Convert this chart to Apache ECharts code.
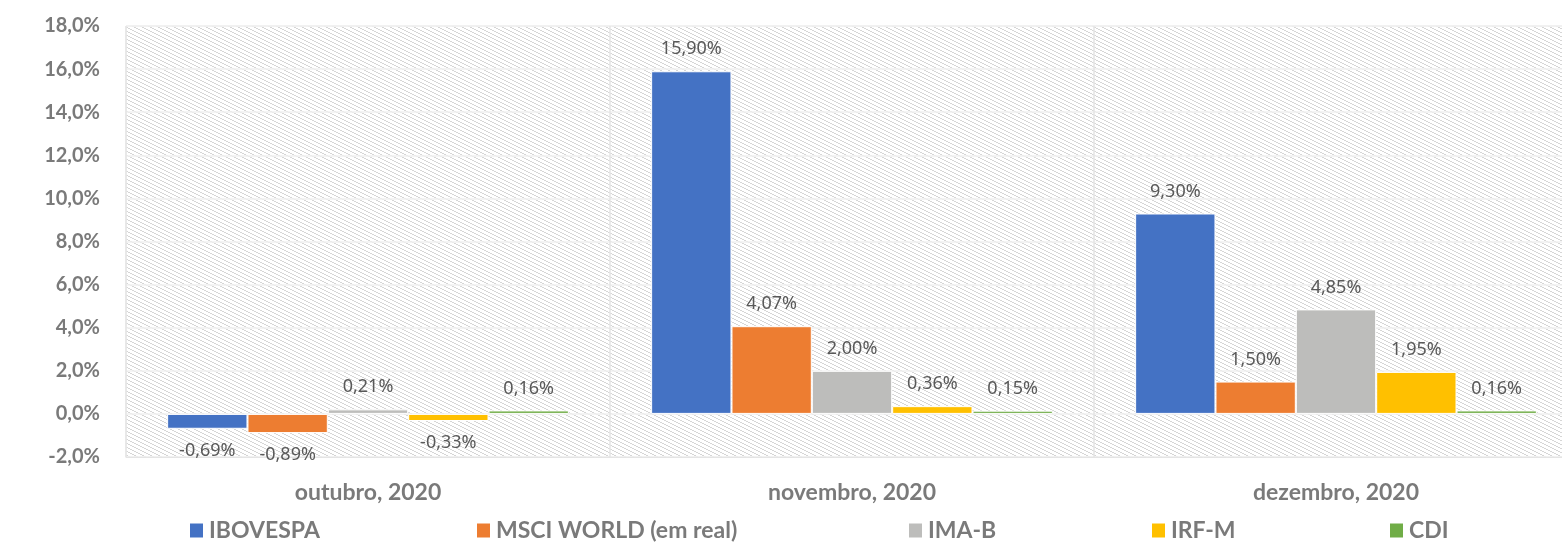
<!DOCTYPE html>
<html>
<head>
<meta charset="utf-8">
<script src="https://cdn.jsdelivr.net/npm/echarts@6/dist/echarts.min.js"></script>
<style>
html,body{margin:0;padding:0;background:#fff;}
#c{width:1562px;height:549px;}
</style>
</head>
<body>
<div id="c"></div>
<script>
const categories = ['outubro, 2020', 'novembro, 2020', 'dezembro, 2020'];
const seriesNames = ['IBOVESPA', 'MSCI WORLD (em real)', 'IMA-B', 'IRF-M', 'CDI'];
const ibovespa = [-0.69, 15.90, 9.30];
const msciWorld = [-0.89, 4.07, 1.50];
const imaB = [0.21, 2.00, 4.85];
const irfM = [-0.33, 0.36, 1.95];
const cdi = [0.16, 0.15, 0.16];
const colors = ['#4472C4', '#ED7D31', '#BDBDBB', '#FFC000', '#70AD47'];
const legendLefts = [188, 475, 907, 1150, 1388];

const seriesData = [ibovespa, msciWorld, imaB, irfM, cdi];

// hatch pattern
const pc = document.createElement('canvas');
pc.width = 8; pc.height = 4;
const pctx = pc.getContext('2d');
pctx.fillStyle = '#ffffff';
pctx.fillRect(0, 0, 8, 4);
pctx.fillStyle = '#d6d6d6';
for (let i = 0; i < 4; i++) { pctx.fillRect(i * 2, i, 2, 1); }

const fmtPct = v => v.toFixed(2).replace('.', ',') + '%';
const fontFam = 'Lato, "Noto Sans", sans-serif';

const chart = echarts.init(document.getElementById('c'));
chart.setOption({
  animation: false,
  backgroundColor: '#ffffff',
  grid: {
    left: 126, width: 1452, top: 26, bottom: 92,
    outerBoundsMode: 'none',
    containLabel: false,
    show: true,
    backgroundColor: { image: pc, repeat: 'repeat' },
    borderColor: '#e4e4e4', borderWidth: 1
  },
  legend: seriesNames.map((n, i) => ({
    data: [n],
    left: legendLefts[i],
    top: 519,
    padding: 0,
    itemWidth: 15, itemHeight: 16, itemGap: 7,
    icon: 'rect',
    textStyle: { fontFamily: fontFam, fontWeight: 'bold', fontSize: 23, color: '#7a7a7a' }
  })),
  xAxis: {
    type: 'category',
    data: categories,
    axisLine: { show: true, onZero: false, lineStyle: { color: '#e4e4e4' } },
    axisTick: { show: false },
    splitLine: { show: true, lineStyle: { color: '#e4e4e4', width: 1.5 } },
    axisLabel: { margin: 24, fontFamily: fontFam, fontWeight: 'bold', fontSize: 23, color: '#7a7a7a' }
  },
  yAxis: {
    type: 'value',
    min: -2, max: 18, interval: 2,
    axisLine: { show: false },
    axisTick: { show: false },
    splitLine: { show: true, lineStyle: { color: '#f0f0f0', width: 1.5 } },
    axisLabel: {
      margin: 26, fontFamily: fontFam, fontWeight: 'bold', fontSize: 20, color: '#7a7a7a',
      formatter: v => v.toFixed(1).replace('.', ',') + '%'
    }
  },
  series: seriesNames.map((n, i) => ({
    name: n,
    type: 'bar',
    barCategoryGap: '17%',
    barGap: '0%',
    itemStyle: { color: colors[i], borderColor: '#ffffff', borderWidth: 1 },
    label: {
      show: true, distance: 13,
      fontFamily: '"Noto Sans", sans-serif', fontSize: 18, color: '#595959',
      formatter: p => fmtPct(p.value)
    },
    data: seriesData[i].map(v => ({ value: v, label: { position: v < 0 ? 'bottom' : 'top' } }))
  })),
  color: colors
});
</script>
</body>
</html>
